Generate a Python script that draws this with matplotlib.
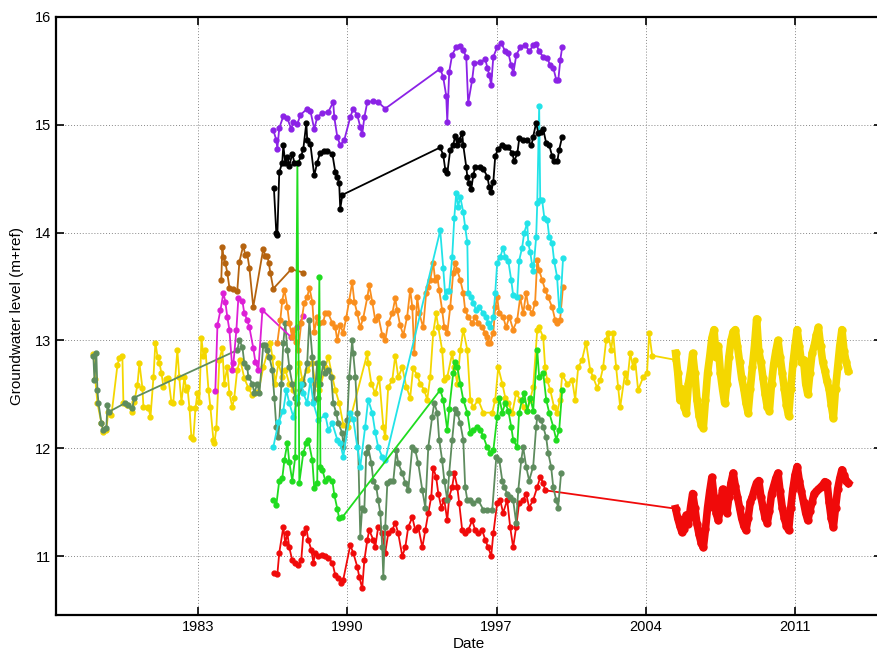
import numpy as np
import matplotlib
matplotlib.use("Agg")
import matplotlib.pyplot as plt

plt.rcParams["font.family"] = ["Liberation Sans", "DejaVu Sans"]

# ---- data: (decimal year, level m+ref) ----
purple = [(1986.53,14.95),(1986.67,14.86),(1986.72,14.78),(1986.81,14.97),(1987.0,15.08),(1987.19,15.06),
          (1987.37,14.96),(1987.47,15.03),(1987.66,15.01),(1987.80,15.09),(1988.12,15.15),(1988.27,15.13),
          (1988.45,14.96),(1988.59,15.07),(1988.83,15.11),(1989.11,15.12),(1989.34,15.21),(1989.39,15.07),
          (1989.53,14.89),(1989.67,14.81),(1989.86,14.86),(1990.14,15.07),(1990.28,15.15),(1990.47,15.09),
          (1990.61,14.98),(1990.70,14.91),(1990.80,15.07),(1990.94,15.21),(1991.22,15.22),(1991.45,15.21),
          (1991.78,15.15),(1994.36,15.52),(1994.50,15.44),(1994.64,15.27),(1994.69,15.03),(1994.78,15.49),
          (1994.92,15.65),(1995.11,15.72),(1995.30,15.73),(1995.44,15.69),(1995.58,15.63),(1995.67,15.20),
          (1995.86,15.42),(1995.95,15.57),(1996.24,15.58),(1996.47,15.61),(1996.57,15.53),(1996.66,15.46),
          (1996.75,15.37),(1996.85,15.63),(1997.03,15.72),(1997.22,15.76),(1997.41,15.68),(1997.55,15.67),
          (1997.69,15.55),(1997.79,15.48),(1997.93,15.65),(1998.12,15.72),(1998.35,15.74),(1998.54,15.68),
          (1998.72,15.74),(1998.86,15.75),(1999.0,15.68),(1999.19,15.63),(1999.38,15.62),(1999.52,15.55),
          (1999.66,15.53),(1999.80,15.42),(1999.90,15.42),(1999.99,15.60),(2000.08,15.72)]

black = [(1986.56,14.41),(1986.67,14.00),(1986.72,13.98),(1986.81,14.56),(1986.95,14.65),(1987.0,14.81),
         (1987.09,14.65),(1987.19,14.70),(1987.28,14.62),(1987.42,14.73),(1987.52,14.65),(1987.70,14.65),
         (1987.84,14.71),(1987.94,14.78),(1988.08,15.02),(1988.12,14.86),(1988.27,14.82),(1988.45,14.53),
         (1988.59,14.65),(1988.73,14.74),(1988.92,14.76),(1989.06,14.76),(1989.30,14.73),(1989.44,14.56),
         (1989.53,14.52),(1989.62,14.46),(1989.67,14.22),(1989.77,14.35),(1994.36,14.79),(1994.50,14.72),
         (1994.60,14.58),(1994.69,14.55),(1994.83,14.77),(1994.97,14.81),(1995.06,14.90),(1995.16,14.81),
         (1995.25,14.86),(1995.39,14.92),(1995.44,14.81),(1995.58,14.61),(1995.63,14.52),(1995.72,14.46),
         (1995.81,14.40),(1995.91,14.53),(1996.0,14.61),(1996.24,14.61),(1996.38,14.59),(1996.57,14.52),
         (1996.66,14.42),(1996.75,14.38),(1996.85,14.47),(1996.94,14.71),(1997.08,14.78),(1997.27,14.81),
         (1997.41,14.79),(1997.55,14.79),(1997.74,14.74),(1997.83,14.66),(1997.98,14.74),(1998.07,14.88),
         (1998.26,14.86),(1998.45,14.86),(1998.64,14.81),(1998.72,14.89),(1998.86,15.02),(1998.96,14.92),
         (1999.10,14.93),(1999.19,14.96),(1999.33,14.83),(1999.47,14.81),(1999.61,14.71),(1999.71,14.66),
         (1999.85,14.66),(1999.94,14.77),(2000.08,14.89)]

brown = [(1984.09,13.56),(1984.14,13.87),(1984.19,13.77),(1984.28,13.72),(1984.37,13.63),(1984.47,13.49),
         (1984.66,13.48),(1984.84,13.46),(1984.94,13.73),(1985.12,13.88),(1985.22,13.79),(1985.31,13.80),
         (1985.41,13.67),(1985.59,13.31),(1986.06,13.85),(1986.16,13.78),(1986.25,13.78),(1986.32,13.72),
         (1986.39,13.63),(1986.53,13.48),(1987.37,13.66),(1987.94,13.63)]

magenta = [(1983.81,12.53),(1983.91,13.14),(1984.05,13.28),(1984.19,13.44),(1984.28,13.36),(1984.37,13.22),
           (1984.47,13.10),(1984.61,12.73),(1984.66,12.79),(1984.80,13.10),(1984.89,13.39),(1985.08,13.37),
           (1985.17,13.25),(1985.31,13.19),(1985.41,13.12),(1985.59,12.93),(1985.69,12.80),(1985.83,12.73),
           (1986.02,13.28),(1987.37,13.03),(1987.66,13.12),(1987.94,13.23)]

orange = [(1986.72,12.98),(1986.86,13.19),(1986.95,13.37),(1987.05,13.47),(1987.19,13.31),(1987.28,13.16),
          (1987.42,13.03),(1987.47,13.10),(1987.61,12.99),(1987.70,12.91),(1987.84,13.16),(1987.98,13.35),
          (1988.12,13.40),(1988.22,13.49),(1988.36,13.36),(1988.45,13.08),(1988.59,13.22),(1988.69,13.16),
          (1988.87,13.17),(1988.97,13.25),(1989.11,13.25),(1989.30,13.16),(1989.44,13.12),(1989.53,13.00),
          (1989.67,13.14),(1989.81,13.07),(1989.95,13.21),(1990.09,13.37),(1990.23,13.54),(1990.33,13.36),
          (1990.47,13.25),(1990.61,13.12),(1990.75,13.21),(1990.94,13.40),(1991.03,13.51),(1991.17,13.36),
          (1991.31,13.19),(1991.45,13.23),(1991.64,13.05),(1991.78,13.00),(1991.92,13.16),(1992.11,13.25),
          (1992.25,13.39),(1992.34,13.28),(1992.48,13.14),(1992.63,13.05),(1992.81,13.22),(1992.95,13.47),
          (1993.05,13.31),(1993.14,12.88),(1993.28,13.40),(1993.38,13.25),(1993.56,13.12),(1993.70,13.44),
          (1993.80,13.50),(1993.89,13.56),(1994.03,13.72),(1994.12,13.56),(1994.22,13.59),(1994.31,13.47),
          (1994.45,13.28),(1994.55,13.12),(1994.69,13.07),(1994.83,13.31),(1994.97,13.63),(1995.06,13.72),
          (1995.16,13.65),(1995.30,13.56),(1995.44,13.44),(1995.53,13.28),(1995.67,13.22),(1995.86,13.16),
          (1996.0,13.22),(1996.14,13.16),(1996.33,13.12),(1996.47,13.07),(1996.56,13.03),(1996.61,12.98),
          (1996.70,12.98),(1996.85,13.07),(1996.94,13.31),(1997.03,13.40),(1997.13,13.25),(1997.31,13.22),
          (1997.45,13.12),(1997.60,13.22),(1997.78,13.10),(1997.97,13.19),(1998.11,13.40),(1998.25,13.25),
          (1998.39,13.44),(1998.49,13.31),(1998.67,13.25),(1998.81,13.35),(1998.91,13.75),(1999.0,13.65),
          (1999.14,13.56),(1999.28,13.47),(1999.42,13.40),(1999.61,13.31),(1999.75,13.19),(1999.84,13.16),
          (1999.98,13.19),(2000.12,13.50)]

cyan = [(1986.53,12.01),(1986.77,12.24),(1987.0,12.35),(1987.14,12.54),(1987.28,12.42),(1987.47,12.29),
        (1987.66,12.47),(1987.84,12.60),(1987.94,12.51),(1988.12,12.42),(1988.27,12.63),(1988.41,12.42),
        (1988.64,12.26),(1988.97,12.31),(1989.11,12.17),(1989.30,12.23),(1989.53,12.08),(1989.67,12.05),
        (1989.81,11.92),(1990.14,12.33),(1990.28,12.27),(1990.47,12.01),(1990.61,11.83),(1990.84,12.20),
        (1990.98,12.45),(1991.17,12.33),(1991.31,12.15),(1991.45,12.01),(1991.64,11.92),(1991.78,11.89),
        (1994.36,14.02),(1994.50,13.67),(1994.60,13.40),(1994.69,13.46),(1994.78,13.46),(1994.92,13.77),
        (1995.02,14.14),(1995.11,14.37),(1995.20,14.24),(1995.30,14.33),(1995.44,14.19),(1995.53,14.05),
        (1995.63,13.91),(1995.67,13.44),(1995.81,13.40),(1995.91,13.35),(1996.05,13.28),(1996.19,13.31),
        (1996.38,13.25),(1996.52,13.22),(1996.61,13.16),(1996.70,13.12),(1996.85,13.22),(1996.94,13.44),
        (1997.03,13.72),(1997.17,13.77),(1997.31,13.86),(1997.41,13.77),(1997.55,13.74),(1997.69,13.56),
        (1997.78,13.42),(1997.97,13.40),(1998.06,13.74),(1998.20,13.86),(1998.30,14.00),(1998.44,14.09),
        (1998.49,13.90),(1998.58,13.82),(1998.67,13.70),(1998.72,13.64),(1998.86,13.96),(1998.91,14.27),
        (1999.0,15.17),(1999.05,14.30),(1999.14,14.30),(1999.24,14.14),(1999.38,14.12),(1999.47,13.96),
        (1999.61,13.90),(1999.70,13.74),(1999.84,13.59),(1999.94,13.28),(1999.98,13.28),(2000.12,13.76)]

green = [(1986.53,11.52),(1986.67,11.47),(1986.81,11.70),(1986.95,11.72),(1987.05,11.89),(1987.19,12.05),
         (1987.28,11.87),(1987.42,11.70),(1987.56,11.92),(1987.66,14.65),(1987.75,11.68),(1987.94,11.96),
         (1988.08,12.05),(1988.17,12.08),(1988.36,11.89),(1988.45,11.63),(1988.59,11.68),(1988.69,13.59),
         (1988.74,11.83),(1988.83,11.80),(1988.97,11.70),(1989.11,11.72),(1989.30,11.70),(1989.39,11.57),
         (1989.53,11.44),(1989.62,11.35),(1989.77,11.36),(1994.36,12.54),(1994.50,12.45),(1994.69,12.17),
         (1994.78,12.36),(1994.97,12.70),(1995.06,12.80),(1995.16,12.75),(1995.30,12.60),(1995.44,12.45),
         (1995.63,12.33),(1995.77,12.14),(1995.91,12.17),(1996.09,12.20),(1996.24,12.17),(1996.38,12.11),
         (1996.56,12.01),(1996.70,11.96),(1996.85,11.98),(1997.03,12.29),(1997.13,12.47),(1997.27,12.33),
         (1997.41,12.42),(1997.55,12.35),(1997.69,12.20),(1997.78,12.08),(1997.97,12.01),(1998.06,12.33),
         (1998.20,12.45),(1998.30,12.51),(1998.44,12.35),(1998.58,12.47),(1998.72,12.35),(1998.91,12.91),
         (1999.0,12.66),(1999.19,12.70),(1999.33,12.45),(1999.47,12.33),(1999.66,12.20),(1999.80,12.08),
         (1999.94,12.17),(2000.08,12.54)]

darkgreen = [(1978.09,12.86),(1978.14,12.63),(1978.23,12.88),(1978.28,12.54),(1978.33,12.42),(1978.47,12.23),
             (1978.56,12.17),(1978.70,12.19),(1978.75,12.40),(1978.84,12.34),(1979.59,12.42),(1979.73,12.40),
             (1979.92,12.37),(1980.01,12.47),(1984.84,12.91),(1984.94,13.00),(1985.08,12.94),(1985.17,12.79),
             (1985.31,12.75),(1985.36,12.66),(1985.55,12.60),(1985.64,12.51),(1985.78,12.60),(1985.88,12.51),
             (1986.06,12.96),(1986.16,12.96),(1986.25,12.91),(1986.34,12.85),(1986.48,12.73),(1986.58,12.47),
             (1986.67,12.20),(1986.77,12.10),(1986.91,12.60),(1987.0,12.98),(1987.09,13.16),(1987.19,12.91),
             (1987.28,12.75),(1987.42,12.60),(1987.56,12.47),(1987.66,12.42),(1987.80,12.54),(1987.94,12.60),
             (1988.12,12.79),(1988.22,13.19),(1988.36,12.85),(1988.45,12.45),(1988.59,12.79),(1988.64,12.47),
             (1988.73,12.60),(1988.87,12.79),(1988.97,12.70),(1989.11,12.73),(1989.25,12.66),(1989.34,12.42),
             (1989.48,12.33),(1989.58,12.23),(1989.77,12.14),(1989.81,12.01),(1990.0,12.26),(1990.09,12.66),
             (1990.23,13.00),(1990.28,12.88),(1990.38,12.66),(1990.47,12.33),(1990.61,11.18),(1990.70,11.45),
             (1990.80,11.43),(1990.89,11.96),(1990.98,12.01),(1991.13,11.86),(1991.22,11.70),(1991.36,11.64),
             (1991.45,11.52),(1991.55,11.40),(1991.64,11.08),(1991.69,10.81),(1991.78,11.27),(1991.88,11.68),
             (1992.02,11.70),(1992.16,11.70),(1992.30,11.98),(1992.39,11.86),(1992.58,11.77),(1992.72,11.68),
             (1992.86,11.61),(1993.05,12.01),(1993.19,11.98),(1993.33,11.86),(1993.52,11.61),(1993.66,11.45),
             (1993.80,12.01),(1993.98,12.29),(1994.08,12.42),(1994.22,12.33),(1994.31,12.08),(1994.45,11.89),
             (1994.55,11.70),(1994.69,11.52),(1994.78,11.77),(1994.92,12.08),(1995.06,12.36),(1995.16,12.33),
             (1995.30,12.23),(1995.44,12.08),(1995.53,11.64),(1995.63,11.52),(1995.77,11.52),(1995.91,11.49),
             (1996.14,11.52),(1996.38,11.43),(1996.56,11.43),(1996.80,11.43),(1996.99,11.92),(1997.13,11.89),
             (1997.27,11.70),(1997.36,11.64),(1997.50,11.58),(1997.64,11.55),(1997.78,11.52),(1997.92,11.31),
             (1998.02,11.61),(1998.16,11.89),(1998.25,12.01),(1998.39,11.83),(1998.53,11.70),(1998.72,11.83),
             (1998.86,12.20),(1998.91,12.29),(1999.09,12.26),(1999.19,12.20),(1999.33,12.10),(1999.42,11.96),
             (1999.56,11.83),(1999.66,11.64),(1999.80,11.52),(1999.89,11.45),(2000.03,11.77)]

red = [(1986.58,10.84),(1986.72,10.83),(1986.81,11.03),(1987.0,11.27),(1987.09,11.12),(1987.19,11.21),
       (1987.28,11.08),(1987.42,10.96),(1987.56,10.94),(1987.70,10.92),(1987.84,10.96),(1987.94,11.21),
       (1988.08,11.26),(1988.17,11.15),(1988.31,11.06),(1988.41,10.94),(1988.50,11.03),(1988.64,11.00),
       (1988.83,11.01),(1988.97,11.00),(1989.11,10.98),(1989.30,10.94),(1989.44,10.82),(1989.58,10.80),
       (1989.72,10.75),(1989.81,10.78),(1990.14,11.10),(1990.28,11.03),(1990.47,10.90),(1990.56,10.81),
       (1990.70,10.70),(1990.80,10.96),(1990.94,11.15),(1991.03,11.24),(1991.22,11.15),(1991.31,11.08),
       (1991.45,11.27),(1991.64,11.21),(1991.78,11.03),(1991.92,11.21),(1992.11,11.24),(1992.25,11.31),
       (1992.39,11.21),(1992.58,11.00),(1992.72,11.08),(1992.86,11.27),(1993.05,11.36),(1993.19,11.24),
       (1993.33,11.27),(1993.52,11.08),(1993.66,11.24),(1993.80,11.40),(1993.94,11.55),(1994.03,11.82),
       (1994.17,11.73),(1994.27,11.58),(1994.41,11.45),(1994.55,11.52),(1994.69,11.33),(1994.78,11.55),
       (1994.92,11.64),(1995.02,11.77),(1995.16,11.64),(1995.25,11.49),(1995.39,11.24),(1995.53,11.21),
       (1995.67,11.24),(1995.86,11.33),(1996.0,11.24),(1996.14,11.21),(1996.33,11.24),(1996.47,11.15),
       (1996.61,11.08),(1996.75,11.00),(1996.85,11.21),(1997.03,11.49),(1997.17,11.52),(1997.31,11.40),
       (1997.50,11.52),(1997.64,11.27),(1997.78,11.08),(1997.92,11.27),(1998.06,11.49),(1998.25,11.52),
       (1998.39,11.58),(1998.53,11.45),(1998.72,11.52),(1998.91,11.64),(1999.05,11.73),(1999.19,11.68),
       (1999.28,11.61),(2005.38,11.44)]

yellow = [(1978.09,12.87),(1978.18,12.64),(1978.28,12.42),(1978.47,12.23),(1978.56,12.15),(1978.70,12.17),
          (1978.79,12.34),(1978.94,12.31),(1979.22,12.77),(1979.31,12.84),(1979.45,12.86),(1979.50,12.42),
          (1979.69,12.40),(1979.92,12.34),(1980.01,12.43),(1980.16,12.59),(1980.25,12.79),(1980.39,12.56),
          (1980.44,12.38),(1980.63,12.37),(1980.67,12.38),(1980.77,12.29),(1980.91,12.66),(1981.0,12.98),
          (1981.10,12.85),(1981.19,12.79),(1981.28,12.70),(1981.38,12.57),(1981.52,12.64),(1981.61,12.65),
          (1981.75,12.43),(1981.84,12.42),(1982.03,12.91),(1982.12,12.66),(1982.22,12.43),(1982.36,12.66),
          (1982.45,12.54),(1982.50,12.57),(1982.60,12.37),(1982.69,12.10),(1982.78,12.09),(1982.88,12.37),
          (1982.97,12.51),(1983.06,12.43),(1983.16,13.02),(1983.25,12.86),(1983.35,12.91),(1983.49,12.54),
          (1983.58,12.38),(1983.72,12.08),(1983.77,12.05),(1983.86,12.19),(1984.0,12.82),(1984.14,12.93),
          (1984.23,12.60),(1984.37,12.75),(1984.47,12.51),(1984.61,12.38),(1984.70,12.47),(1984.84,12.73),
          (1984.98,12.82),(1985.17,12.65),(1985.36,12.56),(1985.55,12.49),(1985.69,12.51),(1985.83,12.52),
          (1986.06,12.75),(1986.39,12.98),(1986.48,12.85),(1986.62,12.60),(1986.77,12.79),(1986.95,12.66),
          (1987.09,12.73),(1987.28,12.60),(1987.47,12.54),(1987.75,12.79),(1987.89,12.63),(1988.12,12.73),
          (1988.36,12.79),(1988.50,12.60),(1988.69,12.54),(1988.97,12.75),(1989.11,12.85),(1989.30,12.66),
          (1989.44,12.54),(1989.62,12.42),(1989.81,12.22),(1990.05,12.20),(1990.94,12.88),(1990.98,12.79),
          (1991.13,12.60),(1991.31,12.51),(1991.50,12.65),(1991.69,12.20),(1991.78,12.10),(1991.92,12.57),
          (1992.11,12.63),(1992.25,12.86),(1992.39,12.66),(1992.58,12.75),(1992.77,12.57),(1992.95,12.47),
          (1993.09,12.74),(1993.28,12.68),(1993.42,12.60),(1993.61,12.54),(1993.75,12.45),(1993.89,12.66),
          (1994.03,13.07),(1994.17,13.25),(1994.27,13.12),(1994.45,12.91),(1994.55,12.63),(1994.69,12.66),
          (1994.92,12.88),(1995.02,12.75),(1995.16,12.60),(1995.30,12.91),(1995.44,13.10),(1995.63,12.91),
          (1995.77,12.45),(1995.91,12.38),(1996.14,12.45),(1996.38,12.33),(1996.80,12.33),(1996.94,12.45),
          (1997.08,12.75),(1997.27,12.60),(1997.41,12.47),(1997.55,12.42),(1997.74,12.33),(1997.92,12.51),
          (1998.11,12.45),(1998.30,12.38),(1998.44,12.35),(1998.58,12.45),(1998.72,12.57),(1998.91,13.10),
          (1999.0,13.12),(1999.19,13.03),(1999.28,12.75),(1999.38,12.63),(1999.52,12.54),(1999.70,12.38),
          (1999.84,12.33),(1999.98,12.45),(2000.08,12.68),(2000.31,12.60),(2000.55,12.63),(2000.69,12.45),
          (2000.83,12.75),(2001.01,12.82),(2001.20,12.98),(2001.39,12.73),(2001.53,12.66),(2001.72,12.56),
          (2001.86,12.63),(2002.0,12.75),(2002.14,13.00),(2002.23,13.07),(2002.38,12.91),(2002.47,13.07),
          (2002.61,12.75),(2002.70,12.57),(2002.80,12.38),(2003.03,12.70),(2003.13,12.61),(2003.27,12.88),
          (2003.41,12.75),(2003.50,12.82),(2003.64,12.54),(2003.88,12.66),(2004.06,12.70),(2004.16,13.07),
          (2004.30,12.86),(2005.38,12.82)]

# densely logged period 2005.4 - 2013.5, one value per 0.1 yr
dense_dates = np.round(np.arange(2005.4, 2013.55, 0.1), 2)
yellow_dense = [12.88,12.70,12.45,12.55,12.38,12.33,12.60,12.72,12.88,12.70,
                12.45,12.30,12.22,12.19,12.45,12.70,12.85,13.02,13.10,12.85,
                12.95,12.70,12.55,12.42,12.60,12.85,13.00,13.08,13.10,12.95,
                12.80,12.65,12.55,12.42,12.33,12.55,12.75,12.95,13.20,12.90,
                12.80,12.65,12.50,12.38,12.35,12.60,12.78,12.90,13.00,12.85,
                12.70,12.55,12.40,12.30,12.55,12.78,12.95,13.10,12.95,12.80,
                12.82,12.60,12.50,12.70,12.88,12.95,13.05,13.12,12.95,12.80,
                12.72,12.62,12.55,12.40,12.28,12.55,12.75,12.95,13.10,12.90,
                12.80,12.72]
red_dense = [11.44,11.35,11.28,11.22,11.25,11.38,11.30,11.45,11.58,11.45,
             11.30,11.20,11.12,11.08,11.25,11.45,11.60,11.73,11.55,11.40,
             11.33,11.45,11.62,11.50,11.40,11.55,11.68,11.77,11.65,11.55,
             11.45,11.35,11.28,11.24,11.35,11.50,11.55,11.62,11.68,11.70,
             11.55,11.45,11.35,11.31,11.42,11.58,11.65,11.72,11.77,11.60,
             11.45,11.35,11.28,11.24,11.45,11.62,11.75,11.83,11.70,11.60,
             11.50,11.40,11.33,11.42,11.50,11.58,11.60,11.62,11.64,11.66,
             11.69,11.68,11.50,11.35,11.27,11.45,11.62,11.72,11.80,11.75,
             11.70,11.68]

XTICKS = [1983, 1990, 1997, 2004, 2011]
YTICKS = [11, 12, 13, 14, 15, 16]

fig = plt.figure(figsize=(8.77, 6.58), dpi=100)
ax = fig.add_axes([0.0639, 0.0653, 0.9418, 0.9089])

sparse = [(yellow, "#F4D700"), (red, "#F00A0A"), (darkgreen, "#5E8C5E"), (magenta, "#DD1FD6"),
          (brown, "#B5630F"), (orange, "#F98E1D"), (cyan, "#22E3E8"), (green, "#1FDC1F"),
          (black, "#000000"), (purple, "#8B22E6")]
for series, col in sparse:
    d, v = zip(*series)
    ax.plot(d, v, "-", color=col, lw=1.3, marker="o", ms=3.5, mec=col, mfc=col)
    if series is yellow:
        ax.plot(dense_dates, yellow_dense, "-", color=col, lw=5.5, marker="o", ms=5, mec=col)
    if series is red:
        ax.plot(dense_dates, red_dense, "-", color=col, lw=5.5, marker="o", ms=5, mec=col)

ax.set_xlim(1976.34, 2015.08)
ax.set_ylim(10.453, 16.0)
ax.set_xticks(XTICKS)
ax.set_xticklabels([str(t) for t in XTICKS])
ax.set_yticks(YTICKS)
ax.grid(True, color="#888888", linestyle=(0, (1, 2)), linewidth=0.7)
ax.tick_params(direction="in", length=6, width=1.2, labelsize=10.5, top=True, right=True,
               labeltop=False, labelright=False)
for s in ax.spines.values():
    s.set_linewidth(1.6)
ax.spines["right"].set_visible(False)
ax.set_xlabel("Date", fontsize=11, labelpad=2)
ax.set_ylabel("Groundwater level (m+ref)", fontsize=11, labelpad=8)

fig.savefig("out.png", dpi=100)
